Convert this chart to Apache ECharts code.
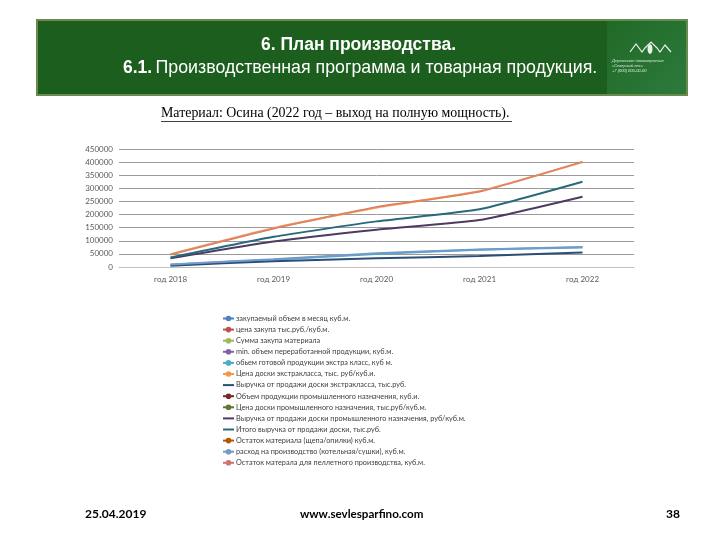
<!DOCTYPE html>
<html>
<head>
<meta charset="utf-8">
<script src="https://cdn.jsdelivr.net/npm/echarts@6/dist/echarts.min.js"></script>
<style>
html,body{margin:0;padding:0;background:#fff;}
#c{width:720px;height:540px;}
</style>
</head>
<body>
<div id="c"></div>
<script>
var categories = ['год 2018', 'год 2019', 'год 2020', 'год 2021', 'год 2022'];
var seriesNames = [
  'закупаемый объем в месяц куб.м.',
  'цена закупа тыс.руб./куб.м.',
  'Сумма закупа материала',
  'min. объем переработанной продукции, куб.м.',
  'обьем готовой продукции экстра класс, куб м.',
  'Цена доски экстракласса, тыс. руб/куб.и.',
  'Выручка от продажи доски экстракласса, тыс.руб.',
  'Объем продукции промышленного назначения, куб.и.',
  'Цена доски промышленного назначения, тыс.руб/куб.м.',
  'Выручка от продажи доски промышленного назначения, руб/куб.м.',
  'Итого выручка от продажи доски, тыс.руб.',
  'Остаток материала (щепа/опилки) куб.м.',
  'расход на производство (котельная/сушки), куб.м.',
  'Остаток матерала для пеллетного производства, куб.м.'
];
var seriesColors = ['#4F81BD','#C0504D','#9BBB59','#8064A2','#4BACC6','#F79646','#2C4D75','#772C2A','#5F7530','#4D3B62','#276A7C','#B65708','#729ACA','#CD7371'];
var lineOnly = [false,false,false,false,false,false,true,false,false,true,true,false,false,false];
// values (null = not drawn)
var s1 = [null, null, null, null, null];
var s2 = [null, null, null, null, null];
var s3 = [null, null, null, null, null];
var s4 = [null, null, null, null, null];
var s5 = [9000, 28000, 50000, 66000, 74000];
var s6 = [49000, 149000, 226000, 290000, 399000];
var s7 = [5000, 22000, 33000, 42000, 55000];
var s8 = [null, null, null, null, null];
var s9 = [null, null, null, null, null];
var s10 = [33000, 97000, 142000, 179000, 268000];
var s11 = [36000, 115000, 174000, 220000, 325000];
var s12 = [null, null, null, null, null];
var s13 = [10000, 30000, 52000, 67000, 76000];
var s14 = [48000, 147000, 228000, 288000, 401000];
var seriesValues = [s1,s2,s3,s4,s5,s6,s7,s8,s9,s10,s11,s12,s13,s14];
var yMax = 450000, yInterval = 50000;

var series = seriesNames.map(function(n, i){
  return {
    name: n,
    type: 'line',
    data: seriesValues[i],
    symbol: lineOnly[i] ? 'none' : 'circle',
    symbolSize: 7,
    showSymbol: false,
    smooth: 0.15,
    z: i === 5 ? 3 : 2,
    lineStyle: {width: 2, color: seriesColors[i], opacity: i === 5 ? 0.55 : 1},
    itemStyle: {color: seriesColors[i]},
    emphasis: {disabled: true}
  };
});
var legendData = seriesNames.map(function(n, i){
  var o = {name: n};
  if (lineOnly[i]) { o.itemStyle = {opacity: 0}; }
  if (i === 5) { o.lineStyle = {opacity: 1}; }
  return o;
});
var chart = echarts.init(document.getElementById('c'));
chart.setOption({
  animation: false,
  color: seriesColors,
  grid: {left: 119, right: 86, top: 149, bottom: 273, containLabel: false},
  xAxis: {
    type: 'category',
    data: categories,
    boundaryGap: true,
    axisLine: {lineStyle: {color: '#BFBFBF', width: 1}},
    axisTick: {show: false},
    axisLabel: {color: '#595959', fontSize: 8, fontFamily: 'Lato', margin: 8}
  },
  yAxis: {
    type: 'value',
    min: 0, max: yMax, interval: yInterval,
    axisLine: {show: false},
    axisTick: {show: false},
    splitLine: {lineStyle: {color: '#9A9A9A', width: 1}},
    axisLabel: {color: '#595959', fontSize: 8, fontFamily: 'Lato', margin: 6, formatter: function(v){ return String(v); }}
  },
  legend: {
    orient: 'vertical',
    left: 222, top: 315,
    padding: 0,
    itemGap: 4.1,
    itemWidth: 11, itemHeight: 7,
    textStyle: {color: '#404040', fontSize: 7.3, fontFamily: 'Lato', padding: [0,0,0,-3]},
    data: legendData
  },
  series: series,
  graphic: [
    {type: 'rect', shape: {x: 36, y: 19, width: 652, height: 77}, style: {fill: '#6a8a50'}},
    {type: 'rect', shape: {x: 38, y: 21, width: 648, height: 73}, style: {fill: '#1B5E1E'}},
    {type: 'rect', shape: {x: 607, y: 21, width: 79, height: 73}, style: {fill: new echarts.graphic.LinearGradient(0,0,1,1,[{offset:0,color:'#1f6a26'},{offset:1,color:'#2e7a3c'}])}},
    {type: 'text', left: 261, top: 36, style: {text: '6. План производства.', fill: '#fff', font: 'bold 17.5px "Liberation Sans Narrow", "Liberation Sans"'}},
    {type: 'text', top: 59, left: 123, style: {rich: {b: {fill: '#fff', font: 'bold 17.5px "Liberation Sans Narrow", "Liberation Sans"'}, n: {fill: '#fff', font: '17.8px "Liberation Sans Narrow", "Liberation Sans"'}}, text: '{b|6.1.} {n|Производственная программа и товарная продукция.}'}},
    {type: 'polyline', shape: {points: [[630,52],[636,44],[642,52],[645,48],[651,42],[657,48],[660,52],[665,45],[671,52]]}, style: {stroke: '#e8f0e8', lineWidth: 1.2, fill: null}},
    {type: 'ellipse', shape: {cx: 650, cy: 49, rx: 2.5, ry: 5}, style: {fill: '#e8f0e8'}},
    {type: 'text', left: 612, top: 58, style: {text: 'Деревянное домостроение\n«Северный лес»\n+7 (000) 000-00-00', fill: '#dfe9df', font: 'italic 4px "Liberation Sans"', align: 'center', x: 38, lineHeight: 5}},
    {type: 'text', left: 161, top: 106, style: {text: 'Материал: Осина (2022 год – выход на полную мощность).', fill: '#000', font: '13.9px "Liberation Serif"'}},
    {type: 'rect', shape: {x: 161, y: 121, width: 351, height: 0.8}, style: {fill: '#000'}},
    {type: 'text', left: 85, top: 508, style: {text: '25.04.2019', fill: '#000', font: 'bold 12px Lato'}},
    {type: 'text', left: 300, top: 508, style: {text: 'www.sevlesparfino.com', fill: '#000', font: 'bold 11.6px Lato'}},
    {type: 'text', left: 666, top: 508, style: {text: '38', fill: '#000', font: 'bold 12px Lato'}}
  ]
});
</script>
</body>
</html>
